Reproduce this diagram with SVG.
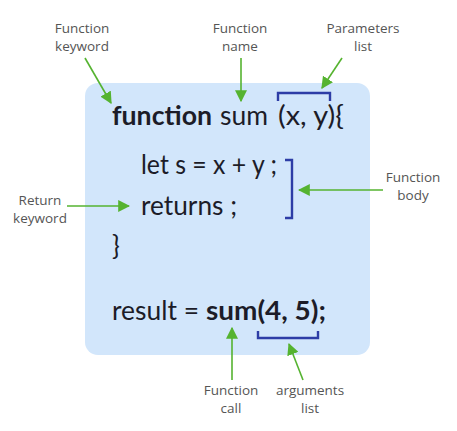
<svg xmlns="http://www.w3.org/2000/svg" width="457" height="431" viewBox="0 0 457 431">
<defs>
<style>
.lbl{font-family:"Open Sans","Noto Sans",sans-serif;font-size:13.5px;fill:#555;text-anchor:middle}
.code{font-family:Lato,"Open Sans",sans-serif;font-size:26px;fill:#1c1c28}
.b{font-weight:bold}
.arr{stroke:#55b330;stroke-width:1.6;fill:none}
.brk{stroke:#2d3da6;stroke-width:2.4;fill:none}
</style>
<marker id="ah2" viewBox="0 0 10 10" refX="9" refY="5" markerWidth="12" markerHeight="12" markerUnits="userSpaceOnUse" orient="auto"><path d="M0,0 L10,5 L0,10 z" fill="#55b330"/></marker>
</defs>
<g id="box"><rect x="85" y="83" width="285" height="272" rx="13" fill="#d2e6fb"/></g>
<g id="code">
<text class="code" y="125"><tspan x="112" class="b" textLength="100" lengthAdjust="spacingAndGlyphs">function</tspan><tspan x="220" textLength="48" lengthAdjust="spacingAndGlyphs">sum</tspan><tspan x="278" textLength="66" lengthAdjust="spacingAndGlyphs">(x, y){</tspan></text>
<text class="code" x="141" y="174" textLength="136" lengthAdjust="spacingAndGlyphs">let s = x + y ;</text>
<text class="code" x="141" y="215" textLength="96" lengthAdjust="spacingAndGlyphs">returns ;</text>
<text class="code" x="112" y="255">}</text>
<text class="code" y="320"><tspan x="112" textLength="87" lengthAdjust="spacingAndGlyphs">result =</tspan><tspan x="206" class="b" textLength="120" lengthAdjust="spacingAndGlyphs">sum(4, 5);</tspan></text>
</g>
<g id="brackets">
<path class="brk" d="M278,101 V93 H330 V101"/>
<path class="brk" d="M285,160 H292 V218 H285"/>
<path class="brk" d="M258,331 V338 H318 V331"/>
</g>
<g id="connectors">
<path class="arr" d="M85,58 L111,103" marker-end="url(#ah2)"/>
<path class="arr" d="M241,58 V101" marker-end="url(#ah2)"/>
<path class="arr" d="M342,58 L322,88" marker-end="url(#ah2)"/>
<path class="arr" d="M383,190 H299" marker-end="url(#ah2)"/>
<path class="arr" d="M67,206 H129" marker-end="url(#ah2)"/>
<path class="arr" d="M232,380 V328" marker-end="url(#ah2)"/>
<path class="arr" d="M303,380 L289,344" marker-end="url(#ah2)"/>
</g>
<g id="lbl-keyword"><text class="lbl" x="82" y="33">Function</text><text class="lbl" x="82" y="51">keyword</text></g>
<g id="lbl-name"><text class="lbl" x="240" y="33">Function</text><text class="lbl" x="240" y="51">name</text></g>
<g id="lbl-params"><text class="lbl" x="363" y="33">Parameters</text><text class="lbl" x="363" y="51">list</text></g>
<g id="lbl-body"><text class="lbl" x="413" y="182">Function</text><text class="lbl" x="413" y="200">body</text></g>
<g id="lbl-return"><text class="lbl" x="40" y="205">Return</text><text class="lbl" x="40" y="223">keyword</text></g>
<g id="lbl-call"><text class="lbl" x="231" y="395">Function</text><text class="lbl" x="231" y="413">call</text></g>
<g id="lbl-args"><text class="lbl" x="310" y="395">arguments</text><text class="lbl" x="310" y="413">list</text></g>
</svg>
